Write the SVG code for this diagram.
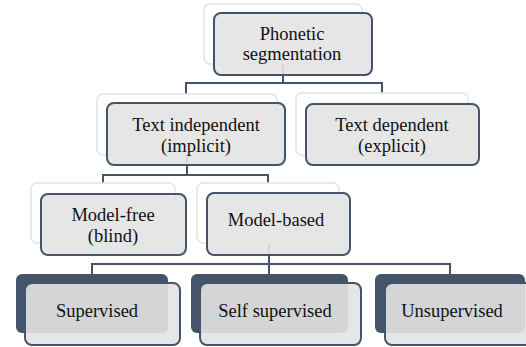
<svg xmlns="http://www.w3.org/2000/svg" width="526" height="347" viewBox="0 0 526 347">
<style>
.bk{fill:#ffffff;stroke:#e3e3e3;stroke-width:1.5}
.dk{fill:#44546a;stroke:none}
.fr{fill:#e3e3e3;fill-opacity:0.9;stroke:#44546a;stroke-width:2}
.cn{fill:none;stroke:#44546a;stroke-width:2}
.t{font-size:18.5px;fill:#111;text-anchor:middle}
</style>
<rect width="526" height="347" fill="#ffffff"/>
<g id="connectors">
<path class="cn" d="M283,64 V83 M186,83 H382 M186,82 V94 M382,82 V94"/>
<path class="cn" d="M187,155 V175 M103,175 H268 M103,174 V183 M268,174 V183"/>
<path class="cn" d="M269,243 V264 M92,264 H450 M92,263 V274 M269,263 V274 M450,263 V274"/>
</g>
<g font-family="Liberation Serif, Times New Roman, DejaVu Serif, serif">
<g id="node-phonetic">
<rect class="bk" x="204" y="4" width="158" height="60" rx="6"/>
<rect class="fr" x="214" y="13" width="158" height="62" rx="7"/>
<text class="t" x="292" y="40">Phonetic</text>
<text class="t" x="292" y="60">segmentation</text>
</g>
<g id="node-text-independent">
<rect class="bk" x="97" y="94" width="180" height="61" rx="6"/>
<rect class="fr" x="107" y="103" width="178" height="62" rx="7"/>
<text class="t" x="196" y="131">Text independent</text>
<text class="t" x="196" y="152">(implicit)</text>
</g>
<g id="node-text-dependent">
<rect class="bk" x="296" y="93" width="172" height="62" rx="6"/>
<rect class="fr" x="306" y="104" width="173" height="61" rx="7"/>
<text class="t" x="392" y="131">Text dependent</text>
<text class="t" x="392" y="152">(explicit)</text>
</g>
<g id="node-model-free">
<rect class="bk" x="31" y="183" width="144" height="60" rx="6"/>
<rect class="fr" x="41" y="194" width="145" height="61" rx="7"/>
<text class="t" x="113" y="221">Model-free</text>
<text class="t" x="113" y="242">(blind)</text>
</g>
<g id="node-model-based">
<rect class="bk" x="197" y="183" width="142" height="60" rx="6"/>
<rect class="fr" x="207" y="193" width="143" height="62" rx="7"/>
<text class="t" x="276" y="226">Model-based</text>
</g>
<g id="node-supervised">
<rect class="dk" x="16" y="274" width="152" height="59" rx="6"/>
<rect class="fr" x="25" y="283" width="155" height="62" rx="7"/>
<text class="t" x="97" y="317">Supervised</text>
</g>
<g id="node-self-supervised">
<rect class="dk" x="191" y="274" width="157" height="59" rx="6"/>
<rect class="fr" x="200" y="283" width="161" height="62" rx="7"/>
<text class="t" x="275" y="317">Self supervised</text>
</g>
<g id="node-unsupervised">
<rect class="dk" x="375" y="274" width="150" height="59" rx="6"/>
<rect class="fr" x="385" y="283" width="150" height="62" rx="7"/>
<text class="t" x="452" y="317">Unsupervised</text>
</g>
</g>
</svg>
